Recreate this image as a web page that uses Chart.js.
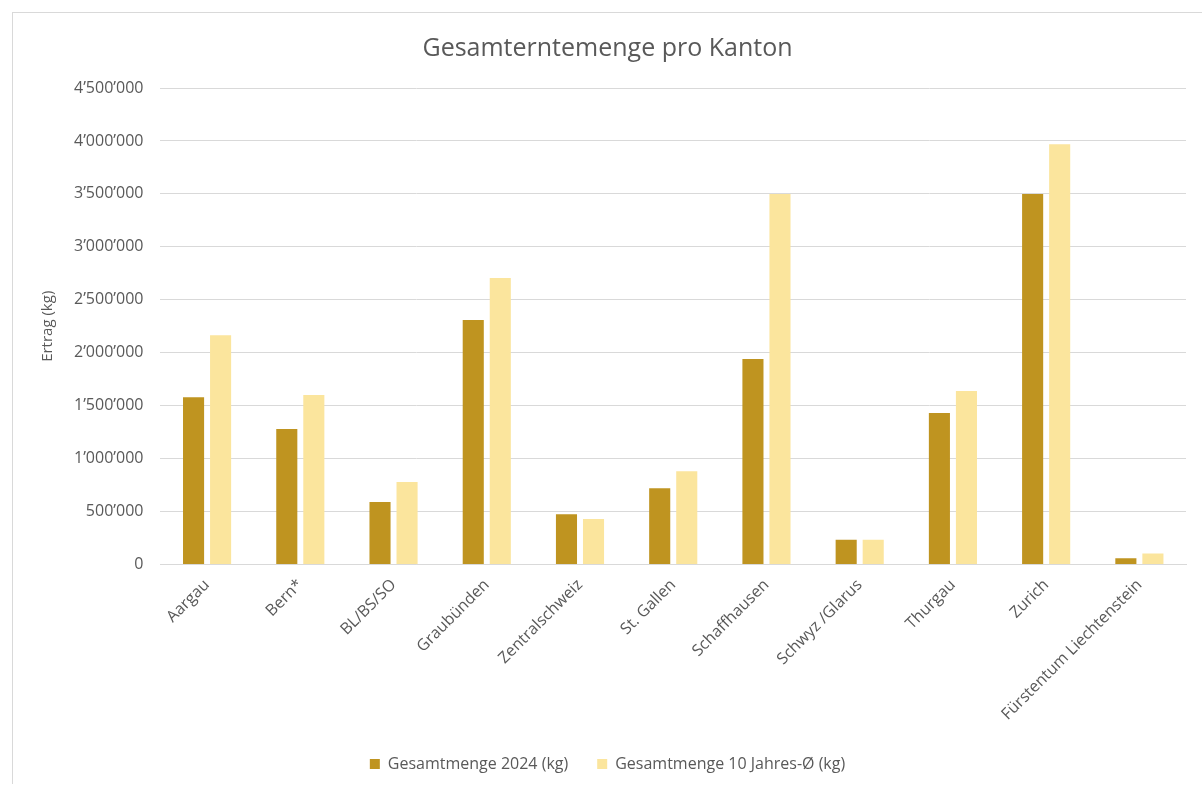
<!DOCTYPE html>
<html>
<head>
<meta charset="utf-8">
<script src="https://cdn.jsdelivr.net/npm/chart.js@4"></script>
<style>
  body { margin: 0; background: #fff; }
  #wrap { position: absolute; left: 12px; top: 12px; width: 1190px; height: 772px;
          border-top: 1px solid #d9d9d9; border-left: 1px solid #d9d9d9; box-sizing: border-box; }
</style>
</head>
<body>
<div id="wrap"><canvas id="ertrag"></canvas></div>
<script>
// Data
const cantons = [
    'Aargau', 'Bern*', 'BL/BS/SO', 'Graubünden', 'Zentralschweiz', 'St. Gallen',
    'Schaffhausen', 'Schwyz /Glarus', 'Thurgau', 'Zurich', 'Fürstentum Liechtenstein'
]
const menge2024 = [1580000, 1280000, 590000, 2310000, 475000, 720000, 1940000, 235000, 1430000, 3500000, 60000]
const menge10j = [2165000, 1600000, 780000, 2705000, 430000, 880000, 3500000, 235000, 1640000, 3970000, 105000]
const yTicks = [0, 500000, 1000000, 1500000, 2000000, 2500000, 3000000, 3500000, 4000000, 4500000]

const GREY = '#595959'
const FONT = '"Open Sans", sans-serif'

function swiss(v) {
    return String(v).replace(/\B(?=(\d{3})+(?!\d))/g, '\u2019')
}

// Config
const config = {
    type: 'bar',
    data: {
        labels: cantons,
        datasets: [
            { label: 'Gesamtmenge 2024 (kg)', data: menge2024, backgroundColor: '#bf9420' },
            { label: 'Gesamtmenge 10 Jahres-Ø (kg)', data: menge10j, backgroundColor: '#fbe59d' }
        ]
    },
    options: {
        responsive: true,
        maintainAspectRatio: false,
        animation: false,
        datasets: { bar: { categoryPercentage: 0.58, barPercentage: 0.78 } },
        layout: { padding: { left: 0, right: 0, top: 13, bottom: 2 } },
        plugins: {
            title: {
                display: true,
                text: 'Gesamterntemenge pro Kanton',
                color: GREY,
                font: { family: FONT, size: 25, weight: 'normal' },
                padding: { top: 8, bottom: 24 }
            },
            legend: {
                position: 'bottom',
                labels: {
                    color: GREY,
                    boxWidth: 10,
                    boxHeight: 10,
                    padding: 29,
                    font: { family: FONT, size: 16 }
                }
            },
            tooltip: { enabled: false }
        },
        scales: {
            x: {
                grid: { display: false },
                border: { color: '#d9d9d9' },
                ticks: {
                    color: GREY,
                    minRotation: 45,
                    maxRotation: 45,
                    autoSkip: false,
                    font: { family: FONT, size: 16 }
                }
            },
            y: {
                min: 0,
                max: 4500000,
                afterBuildTicks: function(axis) {
                    axis.ticks = yTicks.map(v => ({ value: v }))
                },
                grid: { color: '#d9d9d9', drawTicks: false },
                border: { display: false },
                ticks: {
                    color: GREY,
                    padding: 17,
                    font: { family: FONT, size: 16 },
                    callback: function(value) { return swiss(value) }
                },
                title: {
                    display: true,
                    text: 'Ertrag (kg)',
                    color: GREY,
                    padding: { top: 26, bottom: 0 },
                    font: { family: FONT, size: 15 }
                }
            },
            // small empty margin on the right of the plot
            spacer: {
                type: 'linear',
                position: 'right',
                grid: { display: false },
                border: { display: false },
                ticks: { display: false },
                afterFit: function(axis) { axis.width = 16 }
            }
        }
    }
}

// Action
const chart = new Chart(document.getElementById('ertrag'), config)
</script>
</body>
</html>
